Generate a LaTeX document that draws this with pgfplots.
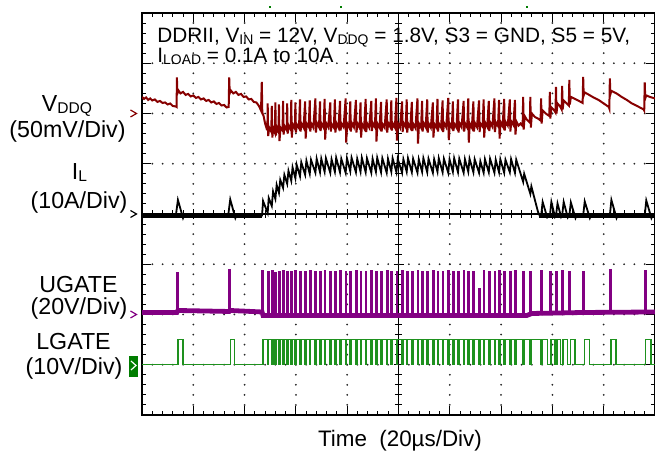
\documentclass[border=0pt]{standalone}
\usepackage{pgfplots}
\pgfplotsset{compat=1.18}
\usepackage{graphicx}
\usepackage{fontspec}
\setmainfont{Liberation Sans}
\definecolor{vddq}{RGB}{135,0,0}
\definecolor{ugate}{RGB}{130,0,130}
\definecolor{lgate}{RGB}{30,145,30}
\definecolor{lgbox}{RGB}{0,125,0}
\newcommand{\sub}[1]{\raisebox{-0.6pt}{\scalebox{0.67}{#1}}}
\pgfplotsset{screen/.style={scale only axis, width=256.5pt, height=201pt, at={(71pt,19.5pt)}, anchor=south west, xticklabels={}, yticklabels={}}}
\begin{document}
\begin{tikzpicture}
% centre cross with minor ticks
\begin{axis}[screen, xmin=-5, xmax=5, ymin=-4, ymax=4, axis lines=center,
  axis line style={-, line width=0.6pt, black},
  xtick={-5,...,5}, ytick={-4,...,4}, minor x tick num=4, minor y tick num=4,
  hide obscured x ticks=false, hide obscured y ticks=false,
  tick align=center, major tick length=5pt, minor tick length=3.6pt,
  tick style={black, line width=0.5pt}]
\addplot[draw=none] coordinates {(0,0)};
\end{axis}
% screen frame
\begin{axis}[screen, xmin=0, xmax=10, ymin=0, ymax=8,
  xtick={0,...,10}, ytick={0,...,8}, minor x tick num=4, minor y tick num=4,
  tick align=inside, major tick length=4.5pt, minor tick length=2.2pt,
  tick style={black, line width=0.5pt}, axis line style={line width=0.7pt, black}]
\addplot[draw=none] coordinates {(0,0)};
\end{axis}
% dotted graticule
\foreach \k in {1,2,3,4,6,7,8,9}{
  \foreach \j in {1,...,39}{
    \fill[black!85] ({71pt+\k*25.65pt},{19.5pt+\j*5.025pt}) circle (0.5pt);
  }
}
\foreach \k in {1,2,3,5,6,7}{
  \foreach \j in {1,...,49}{
    \fill[black!85] ({71pt+\j*5.13pt},{19.5pt+\k*25.125pt}) circle (0.5pt);
  }
}
% traces
\begin{axis}[screen, xmin=0, xmax=10, ymin=0, ymax=8, hide axis]
% UGATE thick baseline band
\addplot[ugate, line width=2.4pt] coordinates {(0,2.04)(0.68,2.04)(0.70,2.08)(1.70,2.06)(1.72,2.08)(2.34,2.05)(2.36,1.98)(7.5,1.98)(7.6,2.02)(8.6,2.04)(10,2.05)};
% UGATE pulses
\addplot[ugate, line width=0.9pt, const plot] coordinates {
(0,2.03)
(0.68,2.83)(0.698,2.05)(1.70,2.89)(1.718,2.05)
(2.34,2.87)(2.358,2.0)(2.45,2.84)(2.468,2.0)(2.53,2.86)(2.548,2.0)(2.60,2.83)(2.618,2.0)
(2.67,2.85)(2.688,2.0)(2.75,2.86)(2.768,2.0)(2.83,2.84)(2.848,2.0)(2.91,2.85)(2.928,2.0)
(2.99,2.86)(3.008,2.0)(3.08,2.84)(3.098,2.0)(3.18,2.85)(3.198,2.0)(3.27,2.86)(3.288,2.0)
(3.38,2.84)(3.398,2.0)(3.47,2.85)(3.488,2.0)(3.56,2.86)(3.578,2.0)(3.67,2.84)(3.688,2.0)
(3.76,2.85)(3.778,2.0)(3.86,2.86)(3.878,2.0)(3.97,2.84)(3.988,2.0)(4.06,2.85)(4.078,2.0)
(4.17,2.86)(4.188,2.0)(4.26,2.84)(4.278,2.0)(4.36,2.85)(4.378,2.0)(4.47,2.86)(4.488,2.0)
(4.56,2.84)(4.578,2.0)(4.66,2.85)(4.678,2.0)(4.77,2.86)(4.788,2.0)(4.86,2.84)(4.878,2.0)
(4.96,2.85)(4.978,2.0)(5.07,2.86)(5.088,2.0)(5.16,2.84)(5.178,2.0)(5.26,2.85)(5.278,2.0)
(5.37,2.86)(5.388,2.0)(5.46,2.84)(5.478,2.0)(5.56,2.85)(5.578,2.0)(5.67,2.86)(5.688,2.0)
(5.76,2.84)(5.778,2.0)(5.86,2.85)(5.878,2.0)(5.97,2.86)(5.988,2.0)(6.06,2.84)(6.078,2.0)
(6.16,2.85)(6.178,2.0)(6.27,2.86)(6.288,2.0)(6.36,2.84)(6.378,2.0)(6.46,2.85)(6.478,2.0)
(6.57,2.50)(6.588,2.0)(6.66,2.86)(6.678,2.0)(6.76,2.84)(6.778,2.0)(6.87,2.85)(6.888,2.0)
(6.96,2.86)(6.978,2.0)(7.06,2.84)(7.078,2.0)(7.17,2.85)(7.188,2.0)(7.27,2.86)(7.288,2.0)
(7.43,2.84)(7.448,2.0)(7.57,2.85)(7.588,2.0)(7.78,2.86)(7.798,2.02)(7.95,2.84)(7.968,2.03)
(8.07,2.85)(8.088,2.03)(8.19,2.86)(8.208,2.04)(8.33,2.84)(8.348,2.04)(8.60,2.85)(8.618,2.05)
(9.12,2.88)(9.138,2.05)(9.80,2.86)(9.818,2.05)(10,2.05)};
% LGATE
\addplot[lgate, line width=0.7pt, const plot] coordinates {
(0,1.0)(0.70,1.5)(0.80,1.0)(1.72,1.5)(1.80,1.0)(2.36,1.5)
(2.446,1.0)(2.47,1.5)(2.526,1.0)(2.55,1.5)(2.596,1.0)(2.62,1.5)(2.666,1.0)(2.69,1.5)
(2.746,1.0)(2.77,1.5)(2.826,1.0)(2.85,1.5)(2.906,1.0)(2.93,1.5)(2.986,1.0)(3.01,1.5)
(3.076,1.0)(3.10,1.5)(3.176,1.0)(3.20,1.5)(3.266,1.0)(3.29,1.5)(3.376,1.0)(3.40,1.5)
(3.466,1.0)(3.49,1.5)(3.556,1.0)(3.58,1.5)(3.666,1.0)(3.69,1.5)(3.756,1.0)(3.78,1.5)
(3.856,1.0)(3.88,1.5)(3.966,1.0)(3.99,1.5)(4.056,1.0)(4.08,1.5)(4.166,1.0)(4.19,1.5)
(4.256,1.0)(4.28,1.5)(4.356,1.0)(4.38,1.5)(4.466,1.0)(4.49,1.5)(4.556,1.0)(4.58,1.5)
(4.656,1.0)(4.68,1.5)(4.766,1.0)(4.79,1.5)(4.856,1.0)(4.88,1.5)(4.956,1.0)(4.98,1.5)
(5.066,1.0)(5.09,1.5)(5.156,1.0)(5.18,1.5)(5.256,1.0)(5.28,1.5)(5.366,1.0)(5.39,1.5)
(5.456,1.0)(5.48,1.5)(5.556,1.0)(5.58,1.5)(5.666,1.0)(5.69,1.5)(5.756,1.0)(5.78,1.5)
(5.856,1.0)(5.88,1.5)(5.966,1.0)(5.99,1.5)(6.056,1.0)(6.08,1.5)(6.156,1.0)(6.18,1.5)
(6.266,1.0)(6.29,1.5)(6.356,1.0)(6.38,1.5)(6.456,1.0)(6.48,1.5)(6.566,1.0)(6.59,1.5)
(6.656,1.0)(6.68,1.5)(6.756,1.0)(6.78,1.5)(6.866,1.0)(6.89,1.5)(6.956,1.0)(6.98,1.5)
(7.056,1.0)(7.08,1.5)(7.166,1.0)(7.19,1.5)(7.266,1.0)(7.29,1.5)(7.426,1.0)(7.45,1.5)
(7.566,1.0)(7.59,1.5)(7.776,1.0)(7.80,1.5)(7.90,1.0)(7.97,1.5)(8.05,1.0)(8.09,1.5)(8.16,1.0)
(8.21,1.5)(8.29,1.0)(8.35,1.5)(8.44,1.0)(8.62,1.5)(8.72,1.0)(9.14,1.5)(9.24,1.0)
(9.82,1.5)(9.92,1.0)(10,1.0)};
% I_L thick zero band
\addplot[black, line width=2.4pt] coordinates {(0,3.97)(2.34,3.97)};
\addplot[black, line width=2.4pt] coordinates {(7.74,3.97)(10,3.97)};
% I_L
\addplot[black, line width=0.9pt] coordinates {
(0,3.97)(0.66,3.97)(0.70,4.28)(0.80,3.92)(0.82,3.97)(1.68,3.97)(1.72,4.29)(1.82,3.92)(1.84,3.97)(2.33,3.97)
(2.34,3.97)(2.36,4.26)(2.45,4.02)(2.47,4.32)(2.53,4.16)(2.555,4.45)(2.60,4.30)(2.625,4.58)
(2.67,4.42)(2.695,4.68)(2.75,4.52)(2.775,4.78)(2.83,4.60)(2.855,4.86)(2.91,4.66)(2.935,4.93)
(2.99,4.71)(3.015,4.98)(3.08,4.75)(3.105,5.03)(3.18,4.78)(3.205,5.06)(3.27,4.80)(3.295,5.08)
(3.38,4.82)(3.405,5.10)
(3.47,4.83)(3.495,5.10)(3.56,4.84)(3.585,5.11)(3.67,4.82)(3.695,5.09)(3.76,4.84)(3.785,5.12)
(3.86,4.83)(3.885,5.10)(3.97,4.82)(3.995,5.11)(4.06,4.85)(4.085,5.12)(4.17,4.83)(4.195,5.10)
(4.26,4.84)(4.285,5.12)(4.36,4.83)(4.385,5.11)(4.47,4.82)(4.495,5.10)(4.56,4.84)(4.585,5.12)
(4.66,4.83)(4.685,5.11)(4.77,4.82)(4.795,5.10)(4.86,4.84)(4.885,5.11)(4.96,4.83)(4.985,5.10)
(5.07,4.82)(5.095,5.09)(5.16,4.84)(5.185,5.11)(5.26,4.83)(5.285,5.10)(5.37,4.82)(5.395,5.09)
(5.46,4.84)(5.485,5.11)(5.56,4.83)(5.585,5.10)(5.67,4.82)(5.695,5.09)(5.76,4.84)(5.785,5.11)
(5.86,4.83)(5.885,5.10)(5.97,4.82)(5.995,5.09)(6.06,4.84)(6.085,5.11)(6.16,4.83)(6.185,5.10)
(6.27,4.82)(6.295,5.09)(6.36,4.84)(6.385,5.10)(6.46,4.83)(6.485,5.09)(6.57,4.82)(6.595,5.05)
(6.66,4.82)(6.685,5.09)(6.76,4.83)(6.785,5.10)(6.87,4.82)(6.895,5.08)(6.96,4.83)(6.985,5.09)
(7.06,4.82)(7.085,5.08)(7.17,4.83)(7.195,5.09)(7.27,4.82)(7.295,5.08)
(7.43,4.64)(7.45,4.80)(7.57,4.40)(7.59,4.55)(7.72,4.04)(7.76,3.95)
(7.78,3.96)(7.81,4.24)(7.90,3.93)(7.95,3.96)(7.98,4.24)(8.05,3.94)(8.07,3.97)(8.10,4.21)(8.17,3.94)
(8.19,3.97)(8.22,4.24)(8.30,3.93)(8.33,3.97)(8.36,4.23)(8.45,3.92)(8.47,3.97)
(8.60,3.97)(8.63,4.25)(8.73,3.92)(8.75,3.97)(9.12,3.97)(9.15,4.28)(9.25,3.92)(9.27,3.97)
(9.80,3.97)(9.83,4.27)(9.93,3.92)(9.95,3.97)(10,3.97)};
% V_DDQ
\addplot[vddq, line width=1pt] coordinates {
(0,6.33)(0.04,6.29)(0.08,6.32)(0.12,6.27)(0.16,6.30)(0.2,6.26)(0.25,6.28)(0.3,6.23)(0.35,6.25)(0.4,6.21)
(0.45,6.22)(0.5,6.18)(0.55,6.20)(0.6,6.15)(0.66,6.14)(0.675,6.13)
(0.68,6.72)(0.69,6.40)(0.71,6.46)(0.75,6.40)(0.8,6.43)(0.85,6.37)(0.9,6.39)(0.95,6.34)(1.0,6.36)(1.05,6.31)
(1.1,6.33)(1.15,6.28)(1.2,6.30)(1.25,6.25)(1.3,6.27)(1.35,6.22)(1.4,6.24)(1.45,6.19)(1.5,6.21)(1.55,6.16)
(1.6,6.17)(1.65,6.12)(1.69,6.13)
(1.70,6.72)(1.71,6.40)(1.73,6.46)(1.78,6.40)(1.83,6.43)(1.88,6.37)(1.93,6.39)(1.98,6.33)(2.03,6.34)(2.08,6.28)
(2.13,6.29)(2.18,6.23)(2.23,6.22)(2.28,6.15)(2.32,6.06)
(2.335,6.63)(2.345,6.02)(2.37,5.95)(2.40,5.80)(2.43,5.70)(2.445,5.72)
(2.45,6.20)(2.46,5.55)(2.48,5.72)(2.52,5.64)
(2.53,6.15)(2.54,5.52)(2.56,5.70)(2.59,5.62)
(2.60,6.22)(2.61,5.56)(2.63,5.72)(2.66,5.64)
(2.67,6.18)(2.68,5.45)(2.70,5.72)(2.74,5.66)
(2.75,6.25)(2.76,5.58)(2.78,5.75)(2.82,5.67)
(2.83,6.20)(2.84,5.60)(2.86,5.76)(2.90,5.68)
(2.91,6.27)(2.92,5.52)(2.94,5.78)(2.98,5.70)
(2.99,6.22)(3.00,5.62)(3.02,5.78)(3.06,5.71)
(3.08,6.28)(3.09,5.64)(3.11,5.80)(3.15,5.72)
(3.18,6.24)(3.19,5.50)(3.21,5.80)(3.25,5.73)
(3.27,6.26)(3.28,5.64)(3.30,5.80)(3.34,5.72)
(3.38,6.30)(3.39,5.62)(3.41,5.81)(3.45,5.73)
(3.47,6.24)(3.48,5.65)(3.50,5.80)(3.54,5.72)
(3.56,6.29)(3.57,5.48)(3.59,5.81)(3.63,5.73)
(3.67,6.22)(3.68,5.64)(3.70,5.79)(3.74,5.72)
(3.76,6.28)(3.77,5.62)(3.79,5.81)(3.83,5.72)
(3.86,6.25)(3.87,5.66)(3.89,5.80)(3.93,5.73)
(3.97,6.30)(3.98,5.42)(4.00,5.80)(4.04,5.72)
(4.06,6.24)(4.07,5.64)(4.09,5.81)(4.13,5.73)
(4.17,6.27)(4.18,5.62)(4.20,5.80)(4.24,5.72)
(4.26,6.22)(4.27,5.52)(4.29,5.79)(4.33,5.71)
(4.36,6.29)(4.37,5.63)(4.39,5.80)(4.43,5.72)
(4.47,6.25)(4.48,5.65)(4.50,5.81)(4.54,5.73)
(4.56,6.30)(4.57,5.44)(4.59,5.80)(4.63,5.72)
(4.66,6.23)(4.67,5.64)(4.69,5.79)(4.73,5.72)
(4.77,6.28)(4.78,5.62)(4.80,5.81)(4.84,5.73)
(4.86,6.26)(4.87,5.66)(4.89,5.80)(4.93,5.72)
(4.96,6.31)(4.97,5.46)(4.99,5.80)(5.03,5.72)
(5.07,6.24)(5.08,5.63)(5.10,5.81)(5.14,5.73)
(5.16,6.28)(5.17,5.62)(5.19,5.80)(5.23,5.72)
(5.26,6.23)(5.27,5.65)(5.29,5.79)(5.33,5.71)
(5.37,6.30)(5.38,5.40)(5.40,5.80)(5.44,5.72)
(5.46,6.25)(5.47,5.64)(5.49,5.81)(5.53,5.73)
(5.56,6.28)(5.57,5.62)(5.59,5.80)(5.63,5.72)
(5.67,6.22)(5.68,5.52)(5.70,5.79)(5.74,5.72)
(5.76,6.29)(5.77,5.64)(5.79,5.80)(5.83,5.72)
(5.86,6.26)(5.87,5.63)(5.89,5.81)(5.93,5.73)
(5.97,6.31)(5.98,5.47)(6.00,5.80)(6.04,5.72)
(6.06,6.24)(6.07,5.65)(6.09,5.79)(6.13,5.72)
(6.16,6.28)(6.17,5.62)(6.19,5.81)(6.23,5.73)
(6.27,6.25)(6.28,5.64)(6.30,5.80)(6.34,5.72)
(6.36,6.30)(6.37,5.42)(6.39,5.80)(6.43,5.72)
(6.46,6.24)(6.47,5.64)(6.49,5.81)(6.53,5.73)
(6.57,6.26)(6.58,5.63)(6.60,5.80)(6.64,5.74)
(6.66,6.28)(6.67,5.52)(6.69,5.82)(6.73,5.74)
(6.76,6.25)(6.77,5.65)(6.79,5.82)(6.83,5.74)
(6.87,6.30)(6.88,5.63)(6.90,5.82)(6.94,5.75)
(6.96,6.27)(6.97,5.50)(6.99,5.83)(7.03,5.75)
(7.06,6.29)(7.07,5.66)(7.09,5.83)(7.13,5.76)
(7.17,6.28)(7.18,5.64)(7.20,5.84)(7.24,5.77)
(7.27,6.27)(7.28,5.58)(7.30,5.84)(7.34,5.76)(7.38,5.80)(7.42,5.75)
(7.43,6.33)(7.44,5.68)(7.46,5.95)(7.50,5.88)(7.56,5.82)
(7.57,6.33)(7.58,5.72)(7.60,6.00)(7.66,5.93)(7.72,5.90)(7.77,5.86)
(7.78,6.30)(7.79,5.80)(7.81,6.06)(7.87,6.00)(7.94,5.95)
(7.95,6.43)(7.96,5.90)(7.98,6.12)(8.03,6.07)(8.06,6.02)
(8.07,6.53)(8.08,6.00)(8.10,6.20)(8.15,6.14)(8.18,6.08)
(8.19,6.55)(8.20,6.08)(8.22,6.26)(8.27,6.21)(8.32,6.16)
(8.33,6.67)(8.34,6.18)(8.36,6.33)(8.42,6.30)(8.50,6.26)(8.59,6.21)
(8.60,6.73)(8.61,6.36)(8.63,6.42)(8.70,6.38)(8.80,6.32)(8.90,6.27)(9.00,6.20)(9.10,6.13)(9.11,6.10)
(9.12,6.70)(9.13,6.38)(9.15,6.45)(9.25,6.40)(9.35,6.33)(9.45,6.27)(9.55,6.20)(9.65,6.15)(9.78,6.08)(9.79,6.06)
(9.80,6.62)(9.81,6.30)(9.83,6.36)(9.90,6.33)(10,6.30)};
\end{axis}
% channel markers
\draw[vddq, line width=0.6pt] (65.25pt,172pt) -- (68.25pt,170.25pt) -- (65.25pt,168.5pt);
\draw[black, line width=0.6pt] (65.25pt,121.75pt) -- (68.25pt,120pt) -- (65.25pt,118.25pt);
\draw[ugate, line width=0.6pt] (65.25pt,71.5pt) -- (68.25pt,69.75pt) -- (65.25pt,68pt);
\fill[lgbox] (64.5pt,38.5pt) rectangle (69pt,49pt);
\draw[white, line width=0.6pt] (65.5pt,46.5pt) -- (68pt,44.25pt) -- (65.5pt,42pt);
% trigger marks at top
\fill[lgbox] (134.5pt,223pt) rectangle (135.5pt,224pt);
\fill[lgbox] (170pt,223pt) rectangle (171pt,224pt);
\fill[lgbox] (263pt,223pt) rectangle (264pt,224pt);
% labels
\begin{scope}[every node/.style={inner sep=0pt, anchor=base, font=\fontsize{11.6}{13}\selectfont}]
\node at (33.5pt,171pt) {V\sub{DDQ}};
\node at (33.75pt,158pt) {(50mV/Div)};
\node at (39.75pt,137pt) {I\sub{L}};
\node at (39.5pt,122.5pt) {(10A/Div)};
\node at (39.25pt,80.5pt) {UGATE};
\node at (39.5pt,69.5pt) {(20V/Div)};
\node at (36.75pt,52pt) {LGATE};
\node at (37pt,39.5pt) {(10V/Div)};
\end{scope}
\node[inner sep=0pt, anchor=base west, font=\fontsize{10.4}{12}\selectfont] at (78.5pt,205.5pt) {DDRII, V\sub{IN} = 12V, V\sub{DDQ} = 1.8V, S3 = GND, S5 = 5V,};
\node[inner sep=0pt, anchor=base west, font=\fontsize{10.4}{12}\selectfont] at (78.5pt,195.5pt) {I\sub{LOAD} = 0.1A to 10A};
\node[inner sep=0pt, anchor=base, font=\fontsize{11.2}{13}\selectfont] at (200pt,3.5pt) {Time\hspace{0.55em}(20µs/Div)};
\pgfresetboundingbox
\path[use as bounding box] (0,0) rectangle (327.5pt,227pt);
\end{tikzpicture}
\end{document}
